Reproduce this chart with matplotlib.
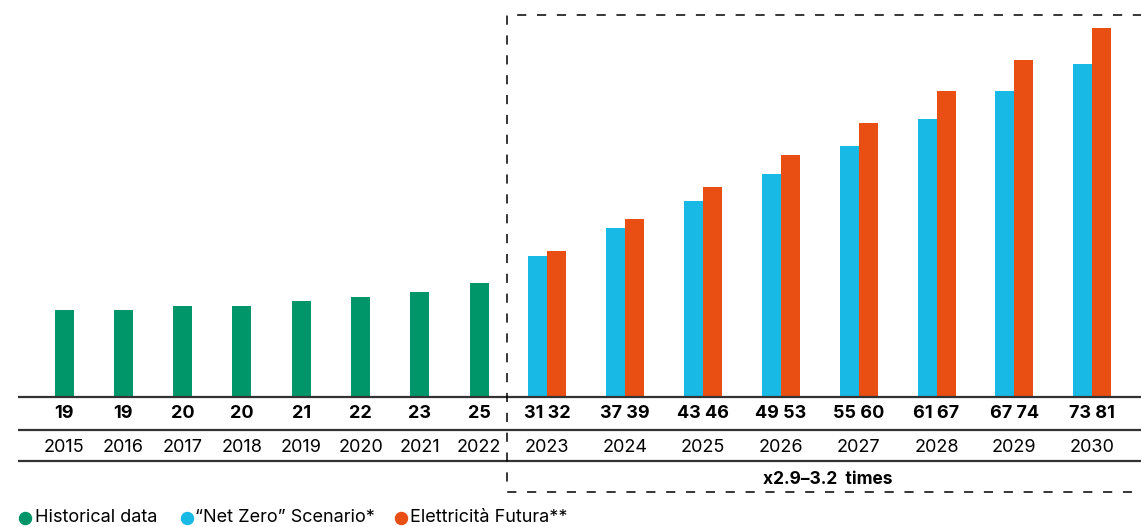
import matplotlib.pyplot as plt
import numpy as np

plt.rcParams['font.family'] = ['Inter', 'DejaVu Sans']

# ---------------------------------------------------------
# Data
# ---------------------------------------------------------
hist_years = ['2015', '2016', '2017', '2018', '2019', '2020', '2021', '2022']
hist_values = [19, 19, 20, 20, 21, 22, 23, 25]

future_years = ['2023', '2024', '2025', '2026', '2027', '2028', '2029', '2030']
net_zero = [31, 37, 43, 49, 55, 61, 67, 73]
elettricita = [32, 39, 46, 53, 60, 67, 74, 81]

legend_labels = ['Historical data', '\u201cNet Zero\u201d Scenario*', 'Elettricit\u00e0 Futura**']
box_label = 'x2.9\u20133.2  times'

GREEN = '#00966A'
BLUE = '#19B9E6'
ORANGE = '#E94E13'
LINE = '#333333'

# ---------------------------------------------------------
# Layout (pixel units on a 1141 x 527 canvas)
# ---------------------------------------------------------
W, H = 1141, 527
BASE = 397          # y pixel of the baseline
PX_PER_UNIT = 4.56  # bar scale

hist_x = 64 + 59.3 * np.arange(len(hist_years))
fut_x = 547 + 77.9 * np.arange(len(future_years))
bw = 19

fig = plt.figure(figsize=(W / 100, H / 100), dpi=100)

# bars axis: spans from top of figure down to baseline
ax = fig.add_axes([0, 1 - BASE / H, 1, BASE / H])
ax.set_xlim(0, W)
ax.set_ylim(0, BASE / PX_PER_UNIT)
ax.axis('off')

ax.bar(hist_x, hist_values, width=bw, color=GREEN)
ax.bar(fut_x - bw / 2, net_zero, width=bw, color=BLUE)
ax.bar(fut_x + bw / 2, elettricita, width=bw, color=ORANGE)

# overlay axis in pixel coordinates for table, box and legend
ov = fig.add_axes([0, 0, 1, 1])
ov.set_xlim(0, W)
ov.set_ylim(H, 0)
ov.axis('off')

for y in (BASE, 430, 461):
    ov.plot([18, W], [y, y], color=LINE, lw=1.6, solid_capstyle='butt')

for x, v, yr in zip(hist_x, hist_values, hist_years):
    ov.text(x, 413, str(v), ha='center', va='center', fontsize=13, fontweight='bold')
    ov.text(x, 447, yr, ha='center', va='center', fontsize=13)

for x, a, b, yr in zip(fut_x, net_zero, elettricita, future_years):
    ov.text(x, 413, f'{a} {b}', ha='center', va='center', fontsize=13, fontweight='bold')
    ov.text(x, 447, yr, ha='center', va='center', fontsize=13)

# dashed box around the forecast period
ov.plot([W + 5, 507, 507, W + 5], [15, 15, 492, 492], color='black', lw=1.1,
        linestyle=(0, (6, 7)), clip_on=False)
ov.text(828, 479, box_label, ha='center', va='center', fontsize=12.5, fontweight='bold')

# legend
for cx, tx, col, lab in zip([25, 187, 401], [35, 195, 410],
                            [GREEN, BLUE, ORANGE], legend_labels):
    ov.scatter([cx], [518], s=75, color=col, zorder=3)
    ov.text(tx, 518, lab, ha='left', va='center', fontsize=13)

fig.savefig('out.png', dpi=100)
